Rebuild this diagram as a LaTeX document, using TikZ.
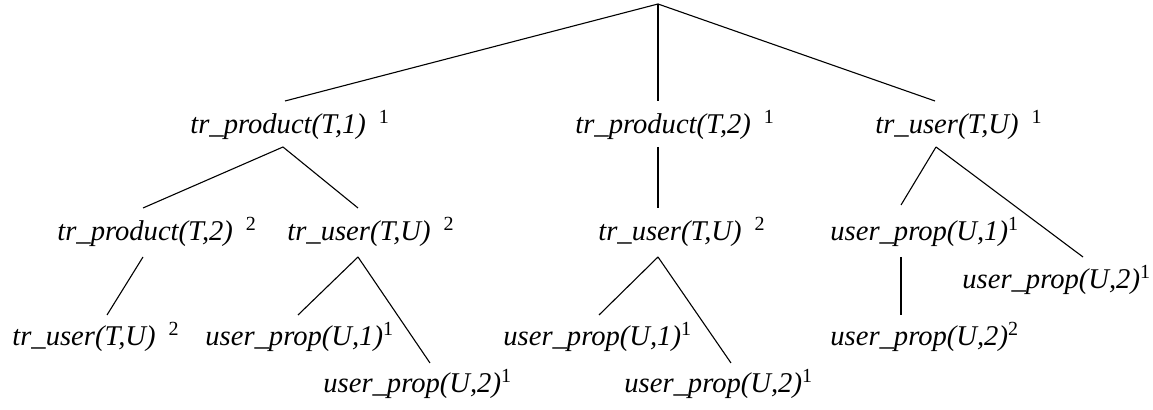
\documentclass[tikz,border=0pt]{standalone}
\usepackage{fontspec}
\setmainfont{Liberation Serif}
\usetikzlibrary{positioning}

\tikzset{
  lbl/.style={anchor=base west,inner sep=0pt,font=\fontsize{14.3}{16}\selectfont\itshape},
  edge/.style={line width=0.55pt}
}
\newcommand{\tsup}[1]{\hspace{0.45em}\textsuperscript{\upshape #1}}
\newcommand{\usup}[1]{\textsuperscript{\upshape #1}}

\begin{document}
\begin{tikzpicture}[x=0.5pt,y=-0.5pt]
  \useasboundingbox (0,0) rectangle (1153,410);

  % first level
  \node[lbl] (prodA) at (190,134) {tr\_product(T,1)\tsup{1}};
  \node[lbl] (prodB) at (575,134) {tr\_product(T,2)\tsup{1}};
  \node[lbl] (userA) at (875,134) {tr\_user(T,U)\tsup{1}};

  % second level
  \node[lbl] (prodAB)  at (57,241)  {tr\_product(T,2)\tsup{2}};
  \node[lbl] (userAU)  at (287,241) {tr\_user(T,U)\tsup{2}};
  \node[lbl] (userBU)  at (598,241) {tr\_user(T,U)\tsup{2}};
  \node[lbl] (propA1)  at (830,241) {user\_prop(U,1)\usup{1}};
  \node[lbl] (propA2)  at (962,289) {user\_prop(U,2)\usup{1}};

  % third level
  \node[lbl] (userABU) at (12,346)  {tr\_user(T,U)\tsup{2}};
  \node[lbl] (propAU1) at (205,346) {user\_prop(U,1)\usup{1}};
  \node[lbl] (propBU1) at (503,346) {user\_prop(U,1)\usup{1}};
  \node[lbl] (propA12) at (830,346) {user\_prop(U,2)\usup{2}};

  % fourth level
  \node[lbl] (propAU2) at (323,393) {user\_prop(U,2)\usup{1}};
  \node[lbl] (propBU2) at (624,393) {user\_prop(U,2)\usup{1}};

  % where the edges meet the labels
  \coordinate (root) at (658,4);
  \coordinate (prodA-t) at (285,101);  \coordinate (prodA-b) at (283,147);
  \coordinate (prodB-t) at (658,101);  \coordinate (prodB-b) at (658,147);
  \coordinate (userA-t) at (935,101);  \coordinate (userA-b) at (936,147);
  \coordinate (prodAB-t) at (143,208); \coordinate (prodAB-b) at (143,257);
  \coordinate (userAU-t) at (358,208); \coordinate (userAU-b) at (358,257);
  \coordinate (userBU-t) at (658,208); \coordinate (userBU-b) at (658,257);
  \coordinate (propA1-t) at (901,205); \coordinate (propA1-b) at (901,257);
  \coordinate (propA2-t) at (1083,257);
  \coordinate (userABU-t) at (107,315);
  \coordinate (propAU1-t) at (298,315);
  \coordinate (propBU1-t) at (599,315);
  \coordinate (propA12-t) at (901,315);
  \coordinate (propAU2-t) at (430,363);
  \coordinate (propBU2-t) at (731,363);

  % edges
  \draw[edge] (root) -- (prodA-t);
  \draw[edge] (root) -- (prodB-t);
  \draw[edge] (root) -- (userA-t);
  \draw[edge] (prodA-b) -- (prodAB-t);
  \draw[edge] (prodA-b) -- (userAU-t);
  \draw[edge] (prodB-b) -- (userBU-t);
  \draw[edge] (userA-b) -- (propA1-t);
  \draw[edge] (userA-b) -- (propA2-t);
  \draw[edge] (prodAB-b) -- (userABU-t);
  \draw[edge] (userAU-b) -- (propAU1-t);
  \draw[edge] (userAU-b) -- (propAU2-t);
  \draw[edge] (userBU-b) -- (propBU1-t);
  \draw[edge] (userBU-b) -- (propBU2-t);
  \draw[edge] (propA1-b) -- (propA12-t);
\end{tikzpicture}
\end{document}
